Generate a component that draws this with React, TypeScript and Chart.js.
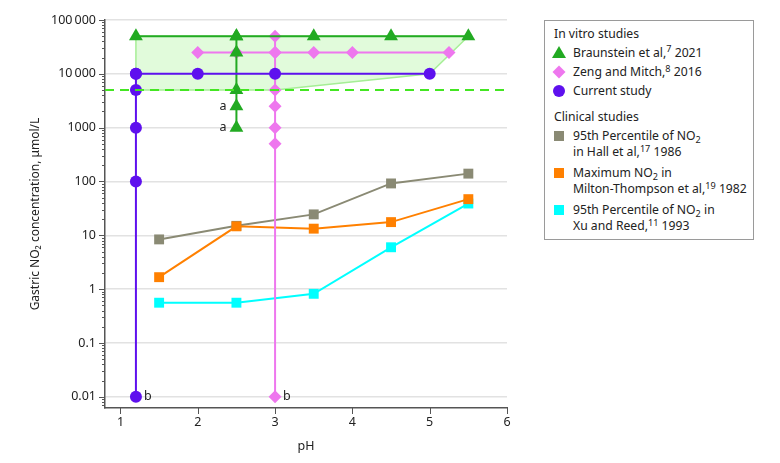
import React, { useEffect, useRef } from 'react';
import { Chart, registerables } from 'chart.js';
Chart.register(...registerables);

const FONT = '"Noto Sans", Lato, sans-serif';
const TEXT = '#222222';
const FS = 12.5;

// In vitro studies
const braunsteinHX = [1.2, 2.5, 3.5, 4.5, 5.5];
const braunsteinHY = [50000, 50000, 50000, 50000, 50000];
const braunsteinVX = [2.5, 2.5, 2.5, 2.5, 2.5];
const braunsteinVY = [50000, 25000, 5000, 2500, 1000];
const zengHX = [2, 2.5, 3, 3.5, 4, 5.25];
const zengHY = [25000, 25000, 25000, 25000, 25000, 25000];
const zengVX = [3, 3, 3, 3, 3, 3, 3, 3];
const zengVY = [50000, 25000, 10000, 5000, 2500, 1000, 500, 0.01];
const currentHX = [1.2, 2, 3, 5];
const currentHY = [10000, 10000, 10000, 10000];
const currentVX = [1.2, 1.2, 1.2, 1.2, 1.2];
const currentVY = [10000, 5000, 1000, 100, 0.01];
const regionX = [1.2, 5.5, 5, 3, 1.2, 1.2];
const regionY = [50000, 50000, 10000, 5000, 5000, 50000];
const thresholdX = [0.8, 6];
const thresholdY = [5000, 5000];

// Clinical studies
const clinicalPH = [1.5, 2.5, 3.5, 4.5, 5.5];
const hallNO2 = [8.4, 15, 24.5, 92, 140];
const miltonNO2 = [1.67, 14.7, 13.3, 17.6, 47];
const xuNO2 = [0.56, 0.56, 0.82, 6, 39];

// Notes
const noteAX = [2.5, 2.5];
const noteAY = [2500, 1000];
const noteBX = [1.2, 3];
const noteBY = [0.01, 0.01];

// Axes
const yTicks = [0.01, 0.1, 1, 10, 100, 1000, 10000, 100000];
const yTickLabels = ['0.01', '0.1', '1', '10', '100', '1000', '10\u2009000', '100\u2009000'];
const xTicks = [1, 2, 3, 4, 5, 6];

const C_GREEN = '#22aa22';
const C_PINK = '#ee77ee';
const C_PURPLE = '#5e10ee';
const C_GRAY = '#8a8a74';
const C_ORANGE = '#ff8000';
const C_CYAN = '#00ffff';

const zip = (xs: number[], ys: number[]) => xs.map((x, i) => ({ x, y: ys[i] }));

const decorPlugin = {
  id: 'decor',
  afterDraw(chart: any) {
    const ctx = chart.ctx;
    const xs = chart.scales.x;
    const ys = chart.scales.y;
    const area = chart.chartArea;
    ctx.save();
    ctx.strokeStyle = '#555';
    ctx.lineWidth = 1;
    for (let e = -3; e <= 5; e++) {
      for (let k = 1; k <= 9; k++) {
        const v = k * Math.pow(10, e);
        if (v < ys.min * 0.999 || v > ys.max * 1.001) continue;
        const py = Math.round(ys.getPixelForValue(v)) + 0.5;
        const len = k === 1 ? 6 : 3;
        ctx.beginPath();
        ctx.moveTo(area.left, py);
        ctx.lineTo(area.left - len, py);
        ctx.stroke();
      }
    }
    xTicks.forEach((v) => {
      const px = Math.round(xs.getPixelForValue(v)) + 0.5;
      ctx.beginPath();
      ctx.moveTo(px, area.bottom);
      ctx.lineTo(px, area.bottom + 6);
      ctx.stroke();
    });
    ctx.fillStyle = TEXT;
    ctx.font = FS + 'px ' + FONT;
    ctx.textBaseline = 'middle';
    ctx.textAlign = 'right';
    noteAX.forEach((x, i) => {
      ctx.fillText('a', xs.getPixelForValue(x) - 10, ys.getPixelForValue(noteAY[i]));
    });
    ctx.textAlign = 'left';
    noteBX.forEach((x, i) => {
      ctx.fillText('b', xs.getPixelForValue(x) + 8, ys.getPixelForValue(noteBY[i]));
    });
    ctx.restore();
  },
};

function ChartCanvas() {
  const ref = useRef<HTMLCanvasElement | null>(null);
  useEffect(() => {
    if (!ref.current) return;
    const line = (label: string, data: any[], color: string, style: string, radius: number, order: number, extra: any = {}) => ({
      label,
      data,
      showLine: true,
      borderColor: color,
      backgroundColor: color,
      borderWidth: 2,
      pointStyle: style,
      pointRadius: radius,
      pointBorderWidth: 0,
      pointBackgroundColor: color,
      order,
      clip: false,
      ...extra,
    });
    const chart = new Chart(ref.current, {
      type: 'scatter',
      data: {
        datasets: [
          {
            label: 'region',
            data: zip(regionX, regionY),
            showLine: true,
            borderColor: '#a6ee96',
            borderWidth: 1.5,
            backgroundColor: 'rgba(200,248,190,0.55)',
            fill: 'shape',
            pointRadius: 0,
            order: 10,
          } as any,
          {
            label: 'threshold',
            data: zip(thresholdX, thresholdY),
            showLine: true,
            borderColor: '#44e622',
            borderWidth: 2,
            borderDash: [9, 6],
            pointRadius: 0,
            order: 0,
          } as any,
          line('Current study H', zip(currentHX, currentHY), C_PURPLE, 'circle', 6, 1),
          line('Current study V', zip(currentVX, currentVY), C_PURPLE, 'circle', 6, 1),
          line('Braunstein H', zip(braunsteinHX, braunsteinHY), C_GREEN, 'triangle', 8, 2),
          line('Braunstein V', zip(braunsteinVX, braunsteinVY), C_GREEN, 'triangle', 8, 2),
          line('Zeng H', zip(zengHX, zengHY), C_PINK, 'rectRot', 6.5, 3),
          line('Zeng V', zip(zengVX, zengVY), C_PINK, 'rectRot', 6.5, 3),
          line('Milton-Thompson', zip(clinicalPH, miltonNO2), C_ORANGE, 'rect', 7, 4),
          line('Xu and Reed', zip(clinicalPH, xuNO2), C_CYAN, 'rect', 7, 5),
          line('Hall', zip(clinicalPH, hallNO2), C_GRAY, 'rect', 7, 6),
        ],
      },
      options: {
        animation: false,
        responsive: false,
        maintainAspectRatio: false,
        layout: { padding: { top: 20, right: 273, bottom: 0, left: 0 } },
        plugins: { legend: { display: false }, tooltip: { enabled: false } },
        scales: {
          x: {
            type: 'linear',
            min: 0.8,
            max: 6,
            afterBuildTicks: (s: any) => {
              s.ticks = xTicks.map((v) => ({ value: v }));
            },
            afterFit: (s: any) => {
              s.height = 55;
            },
            ticks: {
              autoSkip: false,
              maxRotation: 0,
              padding: 7,
              color: TEXT,
              font: { family: FONT, size: FS },
              callback: (v: any) => String(v),
            },
            grid: { display: false, drawTicks: false },
            border: { display: true, color: '#555', width: 1.5 },
            title: {
              display: true,
              text: 'pH',
              color: TEXT,
              font: { family: FONT, size: FS },
              padding: { top: 0, bottom: 9 },
            },
          },
          y: {
            type: 'logarithmic',
            min: 0.0062,
            max: 100000,
            afterBuildTicks: (s: any) => {
              s.ticks = yTicks.map((v) => ({ value: v, major: true }));
            },
            afterFit: (s: any) => {
              s.width = 105;
            },
            ticks: {
              autoSkip: false,
              padding: 9,
              color: TEXT,
              font: { family: FONT, size: FS },
              callback: (v: any) => {
                const i = yTicks.findIndex((t) => Math.abs(t - v) / t < 1e-6);
                return i >= 0 ? yTickLabels[i] : '';
              },
            },
            grid: { color: '#e2e2e2', lineWidth: 1.5, drawTicks: false },
            border: { display: true, color: '#555', width: 1.5 },
            title: {
              display: true,
              text: 'Gastric NO\u2082 concentration, \u03bcmol/L',
              color: TEXT,
              font: { family: FONT, size: 12 },
              padding: { top: 28, bottom: 0 },
            },
          },
        },
      },
      plugins: [decorPlugin],
    } as any);
    return () => chart.destroy();
  }, []);
  return <canvas ref={ref} width={780} height={463} style={{ position: 'absolute', left: 0, top: 0, width: 780, height: 463 }} />;
}

const sup = (t: string) => (
  <span style={{ fontSize: '0.75em', position: 'relative', top: '-0.45em', lineHeight: 0 }}>{t}</span>
);
const sub = (t: string) => (
  <span style={{ fontSize: '0.75em', position: 'relative', top: '0.3em', lineHeight: 0 }}>{t}</span>
);

function Marker({ kind, color }: { kind: string; color: string }) {
  let shape: any = null;
  if (kind === 'triangle') shape = <polygon points="0,12 7,0 14,12" fill={color} />;
  if (kind === 'diamond') shape = <polygon points="7,0.5 13.5,7 7,13.5 0.5,7" fill={color} />;
  if (kind === 'circle') shape = <circle cx="7" cy="7" r="6" fill={color} />;
  if (kind === 'square') shape = <rect x="2" y="2" width="10" height="10" fill={color} />;
  return (
    <svg width={14} height={14} style={{ position: 'absolute', left: 0, top: 0 }}>
      {shape}
    </svg>
  );
}

function Legend() {
  const base: any = {
    position: 'absolute',
    fontFamily: FONT,
    fontSize: 12.2,
    color: TEXT,
    lineHeight: '16px',
    whiteSpace: 'nowrap',
  };
  const textAt = (cy: number, left: number, content: any) => (
    <div style={{ ...base, left, top: cy - 8 }}>{content}</div>
  );
  const markerAt = (cy: number, kind: string, color: string) => (
    <div style={{ position: 'absolute', left: 559 - 7, top: cy - 7, width: 14, height: 14 }}>
      <Marker kind={kind} color={color} />
    </div>
  );
  return (
    <div>
      <div
        style={{
          position: 'absolute',
          left: 544,
          top: 20,
          width: 210,
          height: 220,
          border: '1.5px solid #9a9a9a',
          boxSizing: 'border-box',
          background: '#fff',
        }}
      />
      {textAt(34, 554, 'In vitro studies')}
      {markerAt(52.5, 'triangle', C_GREEN)}
      {textAt(52.5, 573, <>Braunstein et al,{sup('7')} 2021</>)}
      {markerAt(72, 'diamond', C_PINK)}
      {textAt(72, 573, <>Zeng and Mitch,{sup('8')} 2016</>)}
      {markerAt(91, 'circle', C_PURPLE)}
      {textAt(91, 573, 'Current study')}
      {textAt(116.5, 554, 'Clinical studies')}
      {markerAt(136, 'square', C_GRAY)}
      {textAt(136, 573, <>95th Percentile of NO{sub('2')}</>)}
      {textAt(151.7, 573, <>in Hall et al,{sup('17')} 1986</>)}
      {markerAt(173.3, 'square', C_ORANGE)}
      {textAt(173.3, 573, <>Maximum NO{sub('2')} in</>)}
      {textAt(189, 573, <>Milton-Thompson et al,{sup('19')} 1982</>)}
      {markerAt(210, 'square', C_CYAN)}
      {textAt(210, 573, <>95th Percentile of NO{sub('2')} in</>)}
      {textAt(225.7, 573, <>Xu and Reed,{sup('11')} 1993</>)}
    </div>
  );
}

export default function App() {
  return (
    <div style={{ position: 'absolute', left: 0, top: 0, width: 780, height: 463, background: '#fff', overflow: 'hidden' }}>
      <ChartCanvas />
      <Legend />
    </div>
  );
}
